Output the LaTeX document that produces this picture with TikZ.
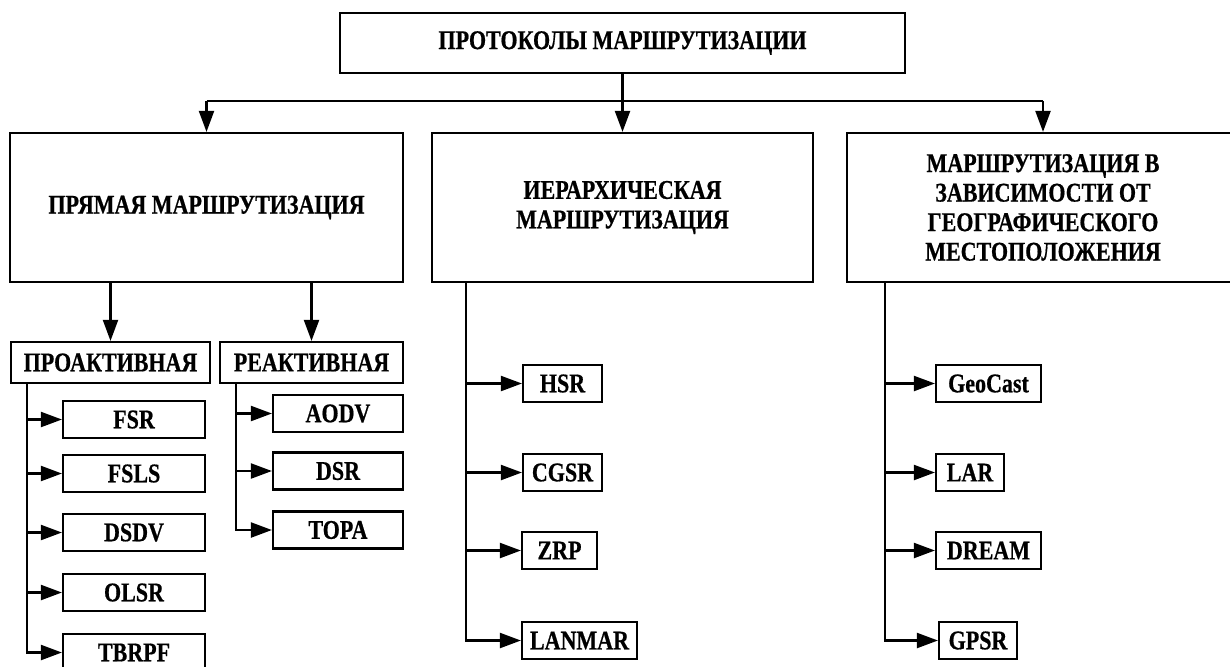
\documentclass[tikz,border=0pt]{standalone}
\usepackage{fontspec}
\setmainfont{Liberation Serif}[FakeStretch=0.815,BoldFeatures={FakeBold=0.6}]
\usetikzlibrary{arrows.meta}
\tikzset{
  box/.style={draw, line width=2.2pt, inner sep=0pt, align=center, font=\fontsize{27}{29.5}\selectfont\bfseries},
  sbox/.style={box, minimum height=37pt},
  conn/.style={line width=2.2pt},
  arr/.style={conn, -{Triangle[length=21pt,width=15pt]}}
}
\begin{document}
\begin{tikzpicture}[x=1pt,y=-1pt]
\useasboundingbox (0,0) rectangle (1230,666);
\clip (0,0) rectangle (1230,666);
% top
\node[box, minimum width=565pt, minimum height=60pt] (top) at (622.5,43) {ПРОТОКОЛЫ МАРШРУТИЗАЦИИ};
\node[box, minimum width=393pt, minimum height=149pt] (b1) at (206.5,207.5) {ПРЯМАЯ МАРШРУТИЗАЦИЯ};
\node[box, minimum width=381pt, minimum height=149pt] (b2) at (622.5,207.5) {ИЕРАРХИЧЕСКАЯ\\МАРШРУТИЗАЦИЯ};
\node[box, minimum width=392pt, minimum height=149pt] (b3) at (1043,207.5) {МАРШРУТИЗАЦИЯ В\\ЗАВИСИМОСТИ ОТ\\ГЕОГРАФИЧЕСКОГО\\МЕСТОПОЛОЖЕНИЯ};
\coordinate (hl) at (206.5,101);
\coordinate (hr) at (1043,101);
\draw[conn] (hl) -- (hr);
\draw[arr] (top.south) -- (b2.north);
\draw[arr] (hl) -- (b1.north);
\draw[arr] (hr) -- (b3.north);
% second level
\node[box, minimum width=199pt, minimum height=41pt] (pro) at (110.5,362.5) {ПРОАКТИВНАЯ};
\node[box, minimum width=183pt, minimum height=41pt] (rea) at (311.5,362.5) {РЕАКТИВНАЯ};
\draw[arr] (b1.south -| pro.north) -- (pro.north);
\draw[arr] (b1.south -| rea.north) -- (rea.north);
% proactive
\node[sbox, minimum width=142pt] (fsr) at (134,419.5) {FSR};
\node[sbox, minimum width=142pt] (fsls) at (134,473.5) {FSLS};
\node[sbox, minimum width=142pt] (dsdv) at (134,532.5) {DSDV};
\node[sbox, minimum width=142pt] (olsr) at (134,592.5) {OLSR};
\node[sbox, minimum width=142pt] (tbrpf) at (134,652.5) {TBRPF};
\coordinate (p0) at (27,383);
\foreach \n in {fsr,fsls,dsdv,olsr,tbrpf} \draw[arr] (p0) |- (\n.west);
% reactive
\node[sbox, minimum width=130pt] (aodv) at (338,413.5) {AODV};
\node[sbox, minimum width=130pt] (dsr) at (338,471) {DSR};
\node[sbox, minimum width=130pt] (topa) at (338,530) {TOPA};
\coordinate (r0) at (236,383);
\foreach \n in {aodv,dsr,topa} \draw[arr] (r0) |- (\n.west);
% hierarchical
\node[sbox, minimum width=79pt] (hsr) at (562.5,383.5) {HSR};
\node[sbox, minimum width=79pt] (cgsr) at (562.5,472.5) {CGSR};
\node[sbox, minimum width=75pt] (zrp) at (559.5,550.5) {ZRP};
\node[sbox, minimum width=115pt] (lanmar) at (579.5,640.5) {LANMAR};
\coordinate (h0) at (466,282);
\foreach \n in {hsr,cgsr,zrp,lanmar} \draw[arr] (h0) |- (\n.west);
% geographic
\node[sbox, minimum width=105pt] (geocast) at (988.5,383.5) {GeoCast};
\node[sbox, minimum width=68pt] (lar) at (970,472.5) {LAR};
\node[sbox, minimum width=105pt] (dream) at (988.5,550.5) {DREAM};
\node[sbox, minimum width=78pt] (gpsr) at (978,640.5) {GPSR};
\coordinate (g0) at (885,282);
\foreach \n in {geocast,lar,dream,gpsr} \draw[arr] (g0) |- (\n.west);
\end{tikzpicture}
\end{document}
